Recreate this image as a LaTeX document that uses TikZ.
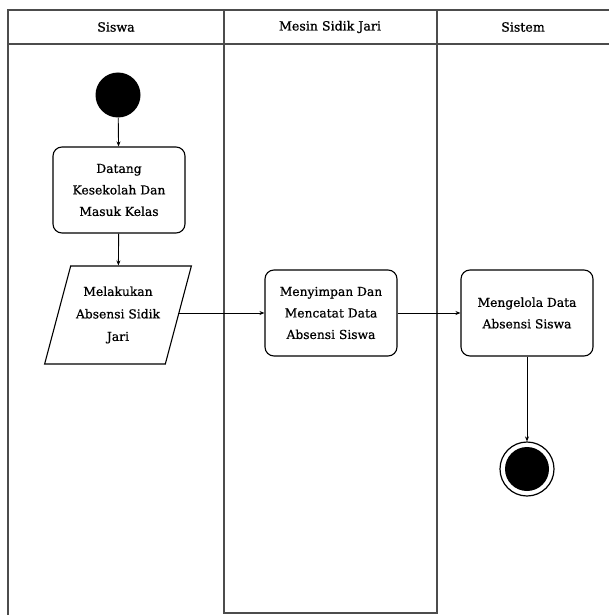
\documentclass[tikz,border=0pt]{standalone}
\usepackage{fontspec}
\setmainfont{DejaVu Serif}[UprightFeatures={FakeBold=0.8}]
\usetikzlibrary{arrows.meta,shapes.geometric}

\tikzset{
  lane/.style={draw=black!70, line width=1.6pt},
  act/.style={draw, rounded corners=9pt, line width=1.1pt, minimum width=132pt,
    minimum height=86pt, inner xsep=2pt, align=center, font=\fontsize{12.3}{21.5}\selectfont},
  input/.style={trapezium, trapezium left angle=70, trapezium right angle=110,
    trapezium stretches=true, draw, line width=1.1pt, minimum width=147pt,
    minimum height=98pt, inner xsep=0pt, align=center, font=\fontsize{12.3}{22.5}\selectfont},
  flow/.style={->, >={Stealth[length=5pt,width=4pt]}, line width=0.9pt},
}

\begin{document}
\begin{tikzpicture}[x=1pt,y=-1pt]
\useasboundingbox (0,0) rectangle (609,615);

\def \laneTop {10}
\def \headBot {44}

% swimlanes
\draw[lane] (609,\laneTop) -- (8,\laneTop) -- (8,615);
\draw[lane] (8,\headBot) -- (609,\headBot);
\draw[lane] (224,\laneTop) -- (224,613) -- (437,613) -- (437,\laneTop);

\foreach \x/\name [count=\i] in {116/Siswa, 330/Mesin Sidik Jari, 523/Sistem}
{
  \node[font=\fontsize{12.6}{14}\selectfont] (head\i) at (\x,27) {\name};
}

% activities
\node[circle, fill, minimum size=45pt] (start) at (118,95) {};
\node[act] (datang) at (119,190) {Datang\\Kesekolah Dan\\Masuk Kelas};
\node[input] (absen) at (118,315) {Melakukan\\Absensi Sidik\\Jari};
\node[act] (simpan) at (331,313) {Menyimpan Dan\\Mencatat Data\\Absensi Siswa};
\node[act] (kelola) at (527,313) {Mengelola Data\\Absensi Siswa};
\node[circle, draw, line width=1.2pt, minimum size=54pt] (end) at (527,469) {};
\node[circle, fill, minimum size=44pt] (endDot) at (end) {};

\draw[flow] (start) -- (datang);
\draw[flow] (datang) -- (absen);
\draw[flow] (absen.east |- simpan.west) -- (simpan.west);
\draw[flow] (simpan) -- (kelola);
\draw[flow] (kelola) -- (end);
\end{tikzpicture}
\end{document}
